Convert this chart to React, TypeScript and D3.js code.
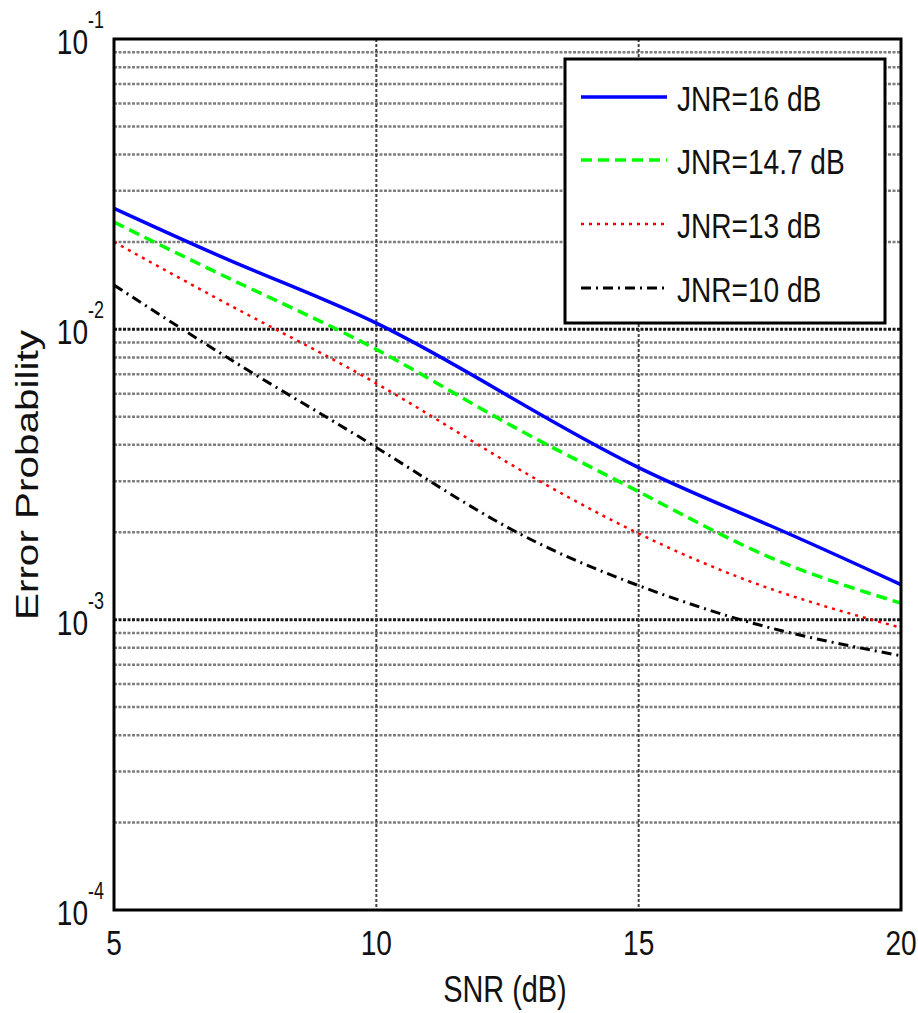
import React from "react";
import * as d3 from "d3";

const snr = [5, 7.5, 10, 12.5, 15, 17.5, 20];
const jnr16 = [0.0261, 0.0164, 0.0105, 0.00592, 0.00334, 0.00211, 0.00132];
const jnr147 = [0.0234, 0.0141, 0.00853, 0.00474, 0.00276, 0.00164, 0.00114];
const jnr13 = [0.0200, 0.01135, 0.00651, 0.00348, 0.00198, 0.00128, 0.000938];
const jnr10 = [0.0142, 0.00733, 0.00392, 0.00208, 0.00131, 0.000938, 0.000751];
const seriesNames = ["JNR=16 dB", "JNR=14.7 dB", "JNR=13 dB", "JNR=10 dB"];
const xTicks = [5, 10, 15, 20];
const yTickExps = [-1, -2, -3, -4];

const W = 918, H = 1013;
const L = 114, R = 901, T = 39, B = 910;
const FONT = "'Liberation Sans', Arial, sans-serif";
const SX = 0.78;

const styles = [
  { color: "#0000ff", dash: "none", width: 3.5 },
  { color: "#00ff00", dash: "11,6", width: 3.5 },
  { color: "#ff0000", dash: "3,5", width: 2.5 },
  { color: "#000000", dash: "10,5,2,5", width: 3 },
];

function T2({ x, y, size, anchor, children, fill = "#111" }: any) {
  return (
    <text
      transform={`translate(${x},${y}) scale(${SX},1)`}
      fontFamily={FONT}
      fontSize={size}
      textAnchor={anchor || "start"}
      fill={fill}
    >
      {children}
    </text>
  );
}

export default function App() {
  const x = d3.scaleLinear().domain([5, 20]).range([L, R]);
  const y = d3.scaleLog().domain([1e-4, 1e-1]).range([B, T]);
  const data = [jnr16, jnr147, jnr13, jnr10];
  const line = d3
    .line<[number, number]>()
    .x((d) => x(d[0]))
    .y((d) => y(d[1]))
    .curve(d3.curveNatural);

  const minor: number[] = [];
  for (let e = -4; e <= -2; e++) {
    for (let k = 2; k <= 9; k++) minor.push(k * Math.pow(10, e));
  }
  const major = [1e-2, 1e-3];

  const legX = 565, legY = 59, legW = 320, legH = 264;
  const rows = [97, 160, 224, 288];

  return (
    <svg
      width={W}
      height={H}
      style={{ position: "absolute", left: 0, top: 0, background: "#fff" }}
    >
      <rect x={0} y={0} width={W} height={H} fill="#fff" />
      {minor.map((v, i) => (
        <line
          key={"m" + i}
          x1={L}
          x2={R}
          y1={y(v)}
          y2={y(v)}
          stroke="#5e5e5e"
          strokeWidth={2.5}
          strokeDasharray="3,1.5"
          opacity={0.8}
        />
      ))}
      {major.map((v, i) => (
        <line
          key={"M" + i}
          x1={L}
          x2={R}
          y1={y(v)}
          y2={y(v)}
          stroke="#1a1a1a"
          strokeWidth={3}
          strokeDasharray="3,1.5"
        />
      ))}
      {[10, 15].map((v) => (
        <line
          key={"v" + v}
          x1={x(v)}
          x2={x(v)}
          y1={T}
          y2={B}
          stroke="#444"
          strokeWidth={2}
          strokeDasharray="3,2"
        />
      ))}
      {data.map((s, i) => (
        <path
          key={"s" + i}
          d={line(snr.map((v, j) => [v, s[j]] as [number, number])) || ""}
          fill="none"
          stroke={styles[i].color}
          strokeWidth={styles[i].width}
          strokeDasharray={styles[i].dash}
        />
      ))}
      <rect x={L} y={T} width={R - L} height={B - T} fill="none" stroke="#000" strokeWidth={3} />
      {/* legend */}
      <rect x={legX} y={legY} width={legW} height={legH} fill="#fff" stroke="#000" strokeWidth={3} />
      {seriesNames.map((n, i) => (
        <g key={"l" + i}>
          <line
            x1={581}
            x2={667}
            y1={rows[i]}
            y2={rows[i]}
            stroke={styles[i].color}
            strokeWidth={styles[i].width}
            strokeDasharray={styles[i].dash}
          />
          <T2 x={677} y={rows[i] + 14} size={36}>
            {n}
          </T2>
        </g>
      ))}
      {/* y tick labels */}
      {yTickExps.map((e) => {
        const yy = y(Math.pow(10, e));
        return (
          <g key={"yt" + e}>
            <T2 x={88} y={yy + 15} size={36} anchor="end">
              10
            </T2>
            <T2 x={88} y={yy - 11} size={23}>
              {"-" + Math.abs(e)}
            </T2>
          </g>
        );
      })}
      {/* x tick labels */}
      {xTicks.map((v) => (
        <T2 key={"xt" + v} x={x(v)} y={955} size={36} anchor="middle">
          {v}
        </T2>
      ))}
      <T2 x={505} y={1002} size={37} anchor="middle">
        SNR (dB)
      </T2>
      <text
        transform={`translate(38,475) rotate(-90) scale(1,${SX})`}
        fontFamily={FONT}
        fontSize={40.5}
        textAnchor="middle"
        fill="#111"
      >
        Error Probability
      </text>
    </svg>
  );
}
